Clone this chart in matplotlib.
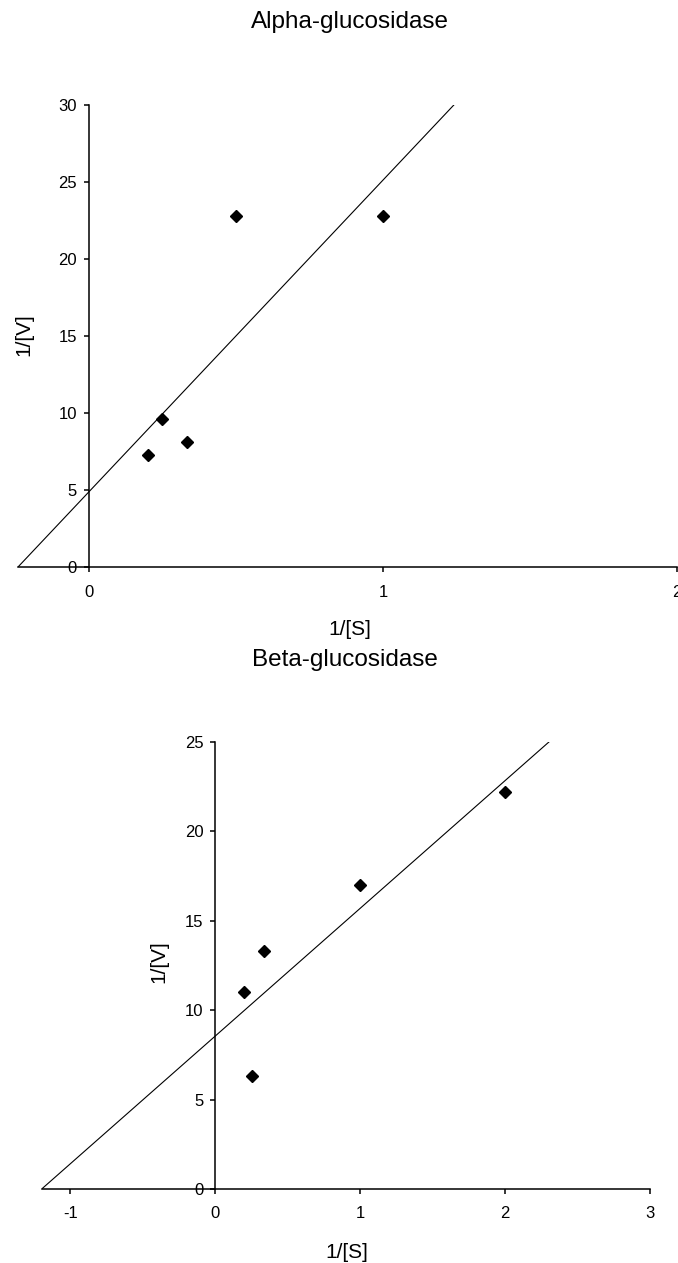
import matplotlib
matplotlib.use("Agg")
import matplotlib.pyplot as plt
import numpy as np

plt.rcParams['font.family'] = ['Liberation Sans', 'DejaVu Sans']
plt.rcParams['axes.unicode_minus'] = False

# Lineweaver-Burk data
alpha_s = [0.2, 0.25, 0.333, 0.5, 1.0]
alpha_v = [7.3, 9.6, 8.1, 22.8, 22.8]
beta_s = [0.2, 0.25, 0.333, 1.0, 2.0]
beta_v = [11.0, 6.3, 13.3, 17.0, 22.2]

alpha_xticks = [0, 1, 2]
alpha_yticks = [0, 5, 10, 15, 20, 25, 30]
beta_xticks = [-1, 0, 1, 2, 3]
beta_yticks = [0, 5, 10, 15, 20, 25]

W, H = 678, 1263
fig = plt.figure(figsize=(W / 100, H / 100), dpi=100)


def lb_plot(rect, xs, ys, xmax, ymax, xticks, yticks, title, title_xy, xlab_xy, ylab_xy):
    ax = fig.add_axes(rect)
    slope, icept = np.polyfit(xs, ys, 1)
    x0 = -icept / slope
    x1 = (ymax - icept) / slope
    ax.plot([x0, x1], [0, ymax], color='black', lw=0.8)
    ax.plot(xs, ys, linestyle='none', marker='D', ms=6, color='black')
    ax.set_xlim(x0, xmax)
    ax.set_ylim(0, ymax)
    ax.set_xticks(xticks)
    ax.set_yticks(yticks)
    ax.spines['top'].set_visible(False)
    ax.spines['right'].set_visible(False)
    ax.spines['left'].set_position(('data', 0))
    for s in ('left', 'bottom'):
        ax.spines[s].set_linewidth(1.1)
    ax.tick_params(axis='both', direction='out', length=3.6, width=1.1, labelsize=12)
    ax.tick_params(axis='x', pad=9)
    ax.tick_params(axis='y', pad=5)
    ax.set_xlabel('1/[S]', fontsize=15)
    ax.set_ylabel('1/[V]', fontsize=15)
    ax.xaxis.label.set_va('center')
    ax.yaxis.label.set_va('center')
    ax.xaxis.set_label_coords(*xlab_xy)
    ax.yaxis.set_label_coords(*ylab_xy)
    fig.text(title_xy[0], title_xy[1], title, fontsize=17.5, ha='center', va='center')
    return ax


lb_plot([18 / W, (H - 567) / H, 659 / W, 462 / H], alpha_s, alpha_v, 2, 30,
        alpha_xticks, alpha_yticks, 'Alpha-glucosidase',
        (350 / W, 1 - 22 / H), (0.503, -0.136), (0.009, 0.504))

lb_plot([41.7 / W, (H - 1189) / H, 608.3 / W, 447 / H], beta_s, beta_v, 3, 25,
        beta_xticks, beta_yticks, 'Beta-glucosidase',
        (345 / W, 1 - 660 / H), (0.502, -0.143), (0.193, 0.508))

fig.savefig('out.png', dpi=100)
